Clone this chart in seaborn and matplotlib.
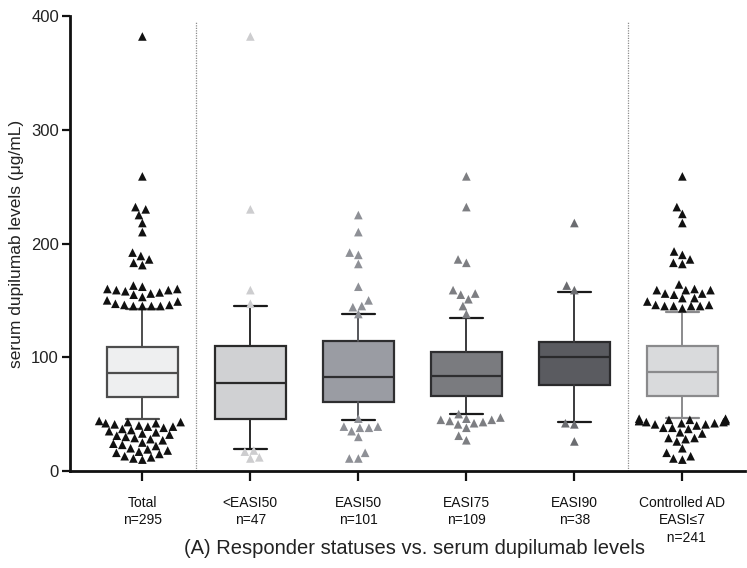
import matplotlib
matplotlib.use("Agg")
import matplotlib.pyplot as plt
import numpy as np
import pandas as pd
import seaborn as sns

# ---------------- data ----------------
groups = ["Total", "<EASI50", "EASI50", "EASI75", "EASI90", "Controlled AD"]
tick_labels = ["Total\nn=295", "<EASI50\nn=47", "EASI50\nn=101", "EASI75\nn=109",
               "EASI90\nn=38", "Controlled AD\nEASI≤7\n  n=241"]

q1 = [64.8, 45.7, 61.0, 66.2, 75.6, 66.0]
median = [85.9, 77.6, 82.9, 83.8, 100.2, 87.3]
q3 = [109.3, 110.2, 114.3, 104.3, 113.1, 110.2]
whisker_low = [45.4, 19.6, 45.1, 49.8, 43.4, 46.3]
whisker_high = [142.0, 144.8, 137.7, 134.8, 157.0, 140.0]

out_total = [382, 259, 232, 230, 225, 218, 210, 192, 189, 186, 183, 181,
             163, 162, 160, 160, 159, 159, 158, 157, 156, 155, 153, 150, 149,
             147, 146, 146, 145, 145, 145, 145,
             44, 43, 43, 42, 42, 41, 40, 39, 39, 38, 37, 36, 35,
             34, 33, 32, 31, 30, 29, 28, 27, 25, 24, 23, 22, 20, 19, 18, 17,
             16, 15, 13, 12, 11, 10]
out_lt50 = [382, 230, 159, 147, 18, 17, 12, 11]
out_easi50 = [225, 210, 192, 190, 182, 162, 150, 145, 144, 138,
              46, 39, 38, 38, 39, 35, 30, 16, 11, 11]
out_easi75 = [259, 232, 186, 183, 159, 155, 156, 151, 145, 138,
              50, 47, 46, 45, 45, 44, 43, 42, 41, 38, 31, 27]
out_easi90 = [218, 163, 159, 42, 41, 26]
out_controlled = [259, 232, 226, 218, 193, 190, 186, 183, 182,
                  164, 160, 159, 159, 159, 156, 156, 155, 152, 152, 149,
                  146, 146, 145, 145, 145, 145, 143,
                  46, 46, 45, 45, 45, 44, 44, 44, 43, 43, 42, 42,
                  41, 41, 40, 38, 38, 37, 34, 33, 29, 29, 28, 26, 20, 16, 13, 11, 10]
outliers = [out_total, out_lt50, out_easi50, out_easi75, out_easi90, out_controlled]

# ---------------- styles ----------------
box_fill = ["#eeeff0", "#d0d1d3", "#9a9ca3", "#7a7b7f", "#5a5b60", "#d9dadc"]
box_edge = ["#4d4d4d", "#2a2a2a", "#2e2e30", "#2e2e30", "#2a2a2c", "#8a8a8c"]
line_col = ["#4d4d4d", "#2a2a2a", "#55565a", "#3a3a3c", "#3a3a3c", "#8a8a8c"]
point_col = ["#111111", "#cdcdcf", "#8e9096", "#7d7e82", "#6b6c70", "#111111"]

sns.set_theme(style="ticks")
plt.rcParams["font.family"] = ["Liberation Sans", "DejaVu Sans"]

fig = plt.figure(figsize=(7.47, 5.68), dpi=100)
ax = fig.add_axes([70 / 747, 1 - 471 / 568, (745 - 70) / 747, (471 - 16) / 568])

# boxes
stats = []
for i, g in enumerate(groups):
    stats.append(dict(label=g, q1=q1[i], med=median[i], q3=q3[i],
                      whislo=whisker_low[i], whishi=whisker_high[i], fliers=[]))
res = ax.bxp(stats, positions=range(len(groups)), widths=0.66, capwidths=0.3,
             patch_artist=True, showfliers=False, manage_ticks=False)
for i in range(len(groups)):
    b = res["boxes"][i]
    b.set_facecolor(box_fill[i]); b.set_edgecolor(box_edge[i]); b.set_linewidth(1.6)
    b.set_zorder(2)
    m = res["medians"][i]
    m.set_color(box_edge[i]); m.set_linewidth(1.6); m.set_zorder(2.1)
    for w in res["whiskers"][2 * i:2 * i + 2]:
        w.set_color(line_col[i]); w.set_linewidth(1.4)
    for c in res["caps"][2 * i:2 * i + 2]:
        c.set_color("#1a1a1a" if i in (1, 2, 3, 4) else line_col[i]); c.set_linewidth(1.6)

# outlier points
df = pd.DataFrame({
    "group": [g for g, vals in zip(groups, outliers) for _ in vals],
    "value": [v for vals in outliers for v in vals],
})
sns.swarmplot(data=df, x="group", y="value", hue="group", order=groups,
              hue_order=groups, palette=dict(zip(groups, point_col)),
              marker="^", size=6.2, linewidth=0, legend=False, ax=ax, zorder=3)

# separators
for xv in (0.5, 4.5):
    ax.axvline(xv, ymin=0, ymax=0.99, color="#8c8c8c", linestyle=(0, (1, 1)),
               linewidth=0.9, zorder=1)

ax.set_xlim(-0.67, 5.58)
ax.set_ylim(0, 400)
ax.set_yticks([0, 100, 200, 300, 400])
ax.set_xticks(range(len(groups)))
ax.set_xticklabels(tick_labels, fontsize=10, color="#222222", linespacing=1.3)
ax.tick_params(axis="y", labelsize=12, length=6, width=1.6, colors="#111111",
               labelcolor="#222222", pad=2)
ax.tick_params(axis="x", length=7, width=1.6, colors="#111111", pad=11)
for s in ("top", "right"):
    ax.spines[s].set_visible(False)
for s in ("left", "bottom"):
    ax.spines[s].set_linewidth(2.0)
    ax.spines[s].set_color("#111111")

ax.set_xlabel("")
ax.set_ylabel("serum dupilumab levels (μg/mL)", fontsize=12.5, color="#222222", labelpad=5)

fig.text(415 / 747, 1 - 549 / 568, "(A) Responder statuses vs. serum dupilumab levels",
         ha="center", va="center", fontsize=14.5, color="#222222")

fig.savefig("out.png", dpi=100)
